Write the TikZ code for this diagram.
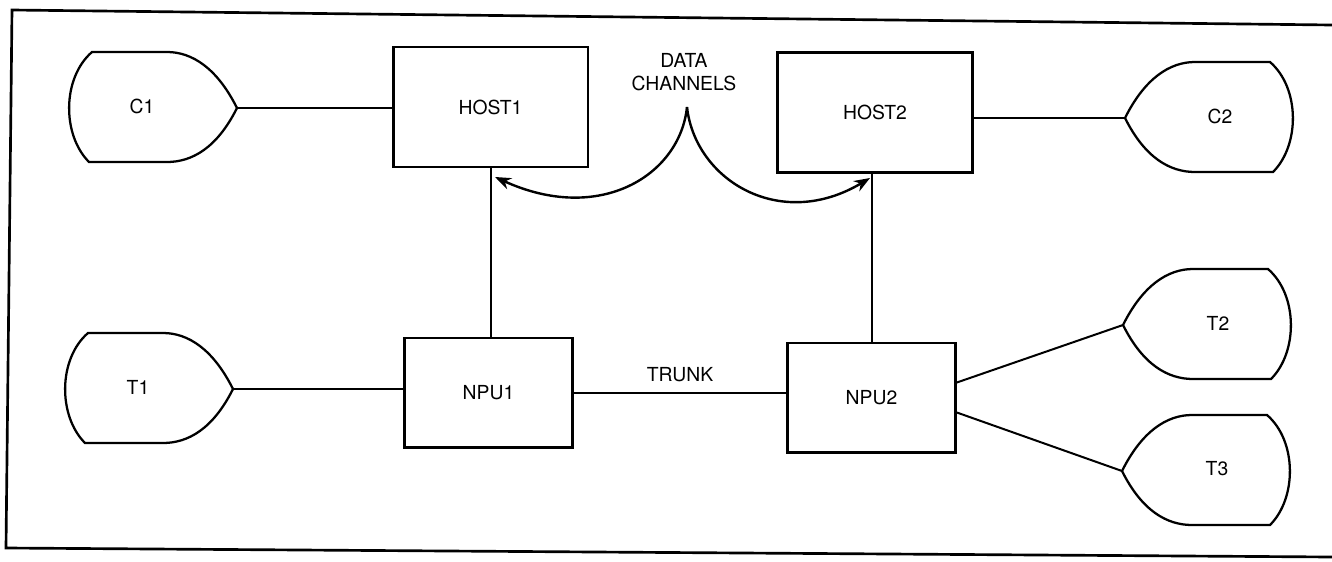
\documentclass[tikz,border=0pt]{standalone}
\usepackage{fontspec}
\setmainfont{TeX Gyre Heros}
\usetikzlibrary{calc,arrows.meta}
\tikzset{
  lbl/.style={font=\fontsize{14.5}{17}\selectfont, inner sep=0pt},
  hostbox/.style={draw, line width=2pt, minimum width=146pt, minimum height=90pt, inner sep=0pt, font=\fontsize{14.5}{17}\selectfont},
  npubox/.style={draw, line width=2pt, minimum width=126pt, minimum height=82pt, inner sep=0pt, font=\fontsize{14.5}{17}\selectfont},
  wire/.style={line width=1.5pt},
  chan/.style={line width=1.8pt, -{Stealth[length=12pt,width=9pt]}},
  frame/.style={line width=2pt},
  display/.pic={
    \draw[line width=1.7pt, line join=miter]
      (0,0) .. controls (-20,-40) and (-45,-56) .. (-70,-56) -- (-145,-56)
      .. controls (-175,-30) and (-175,27) .. (-148,54) -- (-70,54)
      .. controls (-45,54) and (-20,40) .. (0,0) -- cycle;
    \coordinate (-tip) at (0,0);
    \node[lbl] (-label) at (-95,-2) {#1};
  }
}
\begin{document}
\begin{tikzpicture}[x=0.75pt, y=-0.75pt]
  \useasboundingbox (0,0) rectangle (1332,561);
  % outer frame
  \draw[frame] (1332,25) -- (12,10) -- (6,548) -- (1332,557);

  % boxes
  \node[hostbox] (HOST1) at (490.5,107) {HOST1};
  \node[hostbox] (HOST2) at (875,112.5) {HOST2};
  \node[npubox] (NPU1) at (488.5,392.5) {NPU1};
  \node[npubox] (NPU2) at (871.5,397.5) {NPU2};

  % displays / terminals
  \pic (C1) at (237,108) {display=C1};
  \pic (T1) at (233,389) {display=T1};
  \pic[xscale=-1] (C2) at (1125,118) {display=C2};
  \pic[xscale=-1] (T2) at (1123,325) {display=T2};
  \pic[xscale=-1] (T3) at (1122,471) {display=T3};

  % connectors
  \draw[wire] (C1-tip) -- (C1-tip -| HOST1.west);
  \draw[wire] (HOST2.east |- C2-tip) -- (C2-tip);
  \draw[wire] (T1-tip) -- (T1-tip -| NPU1.west);
  \draw[wire] (HOST1.south) -- (HOST1.south |- NPU1.north);
  \draw[wire] (NPU2.north) -- (NPU2.north |- HOST2.south);
  \draw[wire] (NPU1.east) -- (NPU1.east -| NPU2.west)
    node[lbl, midway, above=7pt] (trunk) {TRUNK};
  \draw[wire] ($(NPU2.east)+(0,-15)$) -- (T2-tip);
  \draw[wire] ($(NPU2.east)+(0,15)$) -- (T3-tip);

  % data channels
  \node[lbl, align=center] (dc) at (684,72) {DATA\\CHANNELS};
  \coordinate (cusp) at (687,107);
  \coordinate (ch1) at (495,177);
  \coordinate (ch2) at (870,178);
  \draw[chan] (cusp) .. controls (680,175) and (600,225) .. (ch1);
  \draw[chan] (cusp) .. controls (695,180) and (780,232) .. (ch2);
\end{tikzpicture}
\end{document}
